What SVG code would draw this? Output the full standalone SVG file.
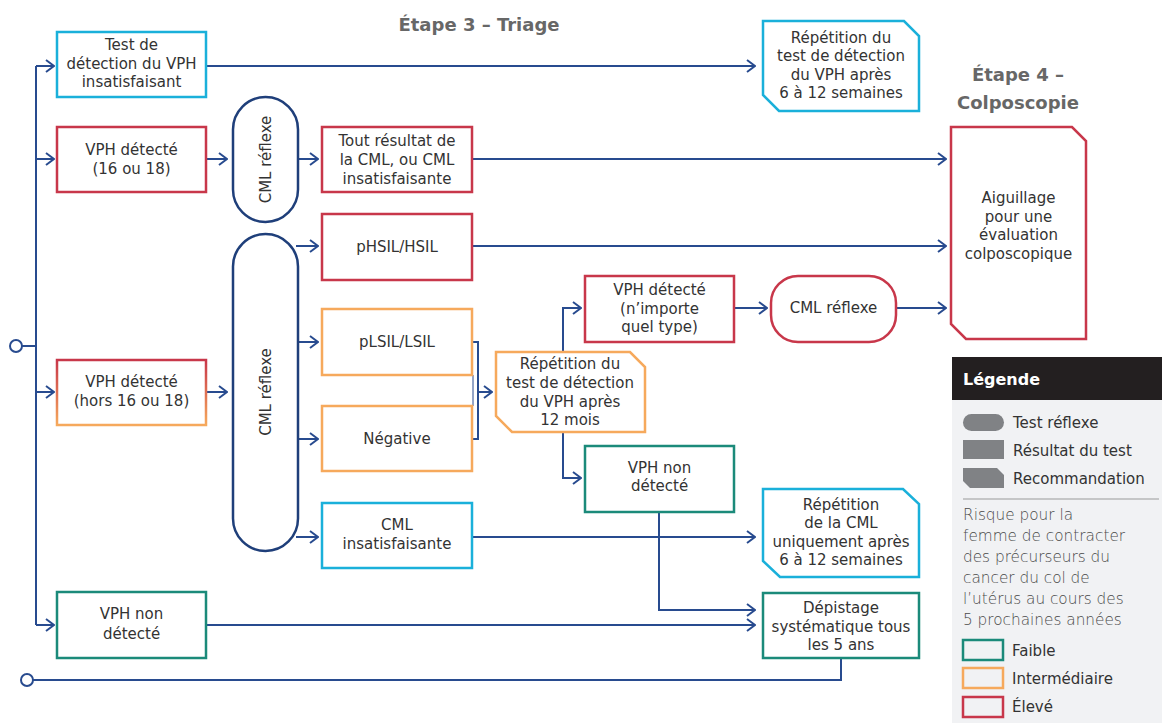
<svg xmlns="http://www.w3.org/2000/svg" width="1162" height="723" viewBox="0 0 1162 723">
  <style>
    .t { font-family: "DejaVu Sans", "Open Sans", sans-serif; font-size: 15px; fill: #333333; text-anchor: middle; }
    .h { font-family: "DejaVu Sans", "Open Sans", sans-serif; font-size: 18px; font-weight: 700; fill: #676767; text-anchor: middle; }
    .lg { font-family: "DejaVu Sans", "Open Sans", sans-serif; font-size: 15px; fill: #333333; }
    .lh { font-family: "DejaVu Sans", "Open Sans", sans-serif; font-size: 16px; font-weight: 700; fill: #ffffff; }
    .lp { font-family: "DejaVu Sans", "Open Sans", sans-serif; font-size: 15.3px; font-weight: 200; fill: #4a4a4a; }
    .box { fill: #ffffff; stroke-width: 2.5; }
    .red { stroke: #c8374a; }
    .orange { stroke: #f6a95c; }
    .teal { stroke: #1b8a7a; }
    .cyan { stroke: #1ab0da; }
    .pill { fill: #ffffff; stroke: #1f3f7a; stroke-width: 2.5; }
    .conn { fill: none; stroke: #284b8f; stroke-width: 2; }
    .arr { marker-end: url(#ah); }
    .leg-shape { fill: #808285; }
    .leg-key { fill: none; stroke-width: 2.5; }
  </style>
  <defs>
    <marker id="ah" viewBox="0 0 10 14" refX="9" refY="7" markerWidth="10" markerHeight="14" markerUnits="userSpaceOnUse" orient="auto">
      <path d="M1,1 L9,7 L1,13" fill="none" stroke="#284b8f" stroke-width="2"/>
    </marker>
    <linearGradient id="redOrange" x1="0" y1="0" x2="0" y2="1">
      <stop offset="0" stop-color="#c8374a"/>
      <stop offset="1" stop-color="#f6a95c"/>
    </linearGradient>
  </defs>

  <rect width="1162" height="723" fill="#ffffff"/>

  <!-- stage headings -->
  <text class="h" x="479" y="31">Étape 3 – Triage</text>
  <text class="h" x="1018" y="81">Étape 4 –</text>
  <text class="h" x="1018" y="109">Colposcopie</text>

  <!-- connectors -->
  <g id="connectors">
    <path class="conn" d="M36,66 V625"/>
    <circle cx="16" cy="346" r="6" fill="#ffffff" stroke="#284b8f" stroke-width="2"/>
    <path class="conn" d="M22,346 H36"/>
    <path class="conn arr" d="M36,66 H54"/>
    <path class="conn arr" d="M36,159 H54"/>
    <path class="conn arr" d="M36,392 H54"/>
    <path class="conn arr" d="M36,625 H54"/>

    <path class="conn arr" d="M207,66 H755"/>
    <path class="conn arr" d="M207,159 H227"/>
    <path class="conn arr" d="M298,159 H318"/>
    <path class="conn arr" d="M472,159 H946"/>

    <path class="conn arr" d="M207,392 H227"/>
    <path class="conn arr" d="M296,246 H318"/>
    <path class="conn arr" d="M298,342 H318"/>
    <path class="conn arr" d="M298,439 H318"/>
    <path class="conn arr" d="M296,537 H318"/>
    <path class="conn arr" d="M472,246 H946"/>

    <path class="conn" d="M472,342 H478 V439 H472"/>
    <path d="M473,375 V406" stroke="#284b8f" stroke-width="1" fill="none"/>
    <path class="conn arr" d="M478,392 H492"/>

    <path class="conn arr" d="M563,352 V308 H581"/>
    <path class="conn arr" d="M563,432 V478 H581"/>
    <path class="conn arr" d="M734,308 H767"/>
    <path class="conn arr" d="M896,308 H946"/>

    <path class="conn arr" d="M472,537 H755"/>
    <path class="conn arr" d="M659,512 V610 H755"/>
    <path class="conn arr" d="M207,625 H755"/>

    <path class="conn" d="M841,658 V680 H33"/>
    <circle cx="27" cy="680" r="6" fill="#ffffff" stroke="#284b8f" stroke-width="2"/>
  </g>

  <!-- first column: screening results -->
  <g id="n-vph-insat">
    <rect class="box cyan" x="57" y="32" width="149" height="65"/>
    <text class="t" x="131.5" y="50">Test de</text>
    <text class="t" x="131.5" y="68.5">détection du VPH</text>
    <text class="t" x="131.5" y="87">insatisfaisant</text>
  </g>
  <g id="n-vph-16-18">
    <rect class="box red" x="57" y="127" width="149" height="65"/>
    <text class="t" x="131.5" y="155">VPH détecté</text>
    <text class="t" x="131.5" y="173.5">(16 ou 18)</text>
  </g>
  <g id="n-vph-autre">
    <rect class="box" stroke="url(#redOrange)" x="57" y="360" width="149" height="65"/>
    <text class="t" x="131.5" y="387">VPH détecté</text>
    <text class="t" x="131.5" y="405.5">(hors 16 ou 18)</text>
  </g>
  <g id="n-vph-neg">
    <rect class="box teal" x="57" y="592" width="149" height="66"/>
    <text class="t" x="131.5" y="619">VPH non</text>
    <text class="t" x="131.5" y="639">détecté</text>
  </g>

  <!-- reflex cytology -->
  <g id="n-cml-reflexe-1">
    <rect class="pill" x="233" y="97" width="65" height="125" rx="32.5"/>
    <text class="t" transform="translate(270.5,159.5) rotate(-90)">CML réflexe</text>
  </g>
  <g id="n-cml-reflexe-2">
    <rect class="pill" x="233" y="234" width="65" height="317" rx="32.5"/>
    <text class="t" transform="translate(270.5,392) rotate(-90)">CML réflexe</text>
  </g>

  <!-- cytology results -->
  <g id="n-tout-resultat">
    <rect class="box red" x="322" y="127" width="150" height="65"/>
    <text class="t" x="397" y="146">Tout résultat de</text>
    <text class="t" x="397" y="165">la CML, ou CML</text>
    <text class="t" x="397" y="184">insatisfaisante</text>
  </g>
  <g id="n-hsil">
    <rect class="box red" x="322" y="214" width="150" height="66"/>
    <text class="t" x="397" y="252">pHSIL/HSIL</text>
  </g>
  <g id="n-lsil">
    <rect class="box orange" x="322" y="309" width="150" height="66"/>
    <text class="t" x="397" y="347">pLSIL/LSIL</text>
  </g>
  <g id="n-negative">
    <rect class="box orange" x="322" y="406" width="150" height="65"/>
    <text class="t" x="397" y="444">Négative</text>
  </g>
  <g id="n-cml-insat">
    <rect class="box cyan" x="322" y="503" width="150" height="65"/>
    <text class="t" x="397" y="530">CML</text>
    <text class="t" x="397" y="549">insatisfaisante</text>
  </g>

  <!-- repeat HPV test at 12 months -->
  <g id="n-rep-12mois">
    <path class="box orange" d="M496,352 H630 L645,367 V432 H512 L496,416 Z"/>
    <text class="t" x="570" y="369">Répétition du</text>
    <text class="t" x="570" y="388">test de détection</text>
    <text class="t" x="570" y="407">du VPH après</text>
    <text class="t" x="570" y="425">12 mois</text>
  </g>
  <g id="n-vph-tout-type">
    <rect class="box red" x="585" y="276" width="149" height="66"/>
    <text class="t" x="659.5" y="295">VPH détecté</text>
    <text class="t" x="659.5" y="314">(n’importe</text>
    <text class="t" x="659.5" y="332">quel type)</text>
  </g>
  <g id="n-cml-reflexe-3">
    <rect class="box red" x="771" y="276" width="125" height="66" rx="27"/>
    <text class="t" x="833.5" y="313">CML réflexe</text>
  </g>
  <g id="n-vph-non-2">
    <rect class="box teal" x="585" y="446" width="149" height="66"/>
    <text class="t" x="659.5" y="473">VPH non</text>
    <text class="t" x="659.5" y="491">détecté</text>
  </g>

  <!-- recommendations -->
  <g id="n-rep-vph">
    <path class="box cyan" d="M763,21 H904 L919,36 V111 H779 L763,95 Z"/>
    <text class="t" x="841" y="43">Répétition du</text>
    <text class="t" x="841" y="61">test de détection</text>
    <text class="t" x="841" y="80">du VPH après</text>
    <text class="t" x="841" y="98">6 à 12 semaines</text>
  </g>
  <g id="n-colposcopie">
    <path class="box red" d="M951,127 H1072 L1086,141 V339 H966 L951,324 Z"/>
    <text class="t" x="1018.5" y="203">Aiguillage</text>
    <text class="t" x="1018.5" y="222">pour une</text>
    <text class="t" x="1018.5" y="240">évaluation</text>
    <text class="t" x="1018.5" y="259">colposcopique</text>
  </g>
  <g id="n-rep-cml">
    <path class="box cyan" d="M763,489 H903 L919,504 V577 H780 L763,561 Z"/>
    <text class="t" x="841" y="510">Répétition</text>
    <text class="t" x="841" y="528">de la CML</text>
    <text class="t" x="841" y="547">uniquement après</text>
    <text class="t" x="841" y="565">6 à 12 semaines</text>
  </g>
  <g id="n-depistage">
    <rect class="box teal" x="763" y="593" width="156" height="65"/>
    <text class="t" x="841" y="613">Dépistage</text>
    <text class="t" x="841" y="632">systématique tous</text>
    <text class="t" x="841" y="650">les 5 ans</text>
  </g>

  <!-- legend -->
  <g id="legend">
    <rect x="952" y="357" width="210" height="43" fill="#231f20"/>
    <text class="lh" x="963" y="385">Légende</text>
    <rect x="952" y="400" width="210" height="323" fill="#f1f2f4"/>
    <rect class="leg-shape" x="963" y="414" width="41" height="17" rx="8.5"/>
    <text class="lg" x="1013" y="428">Test réflexe</text>
    <rect class="leg-shape" x="963" y="440" width="41" height="19"/>
    <text class="lg" x="1013" y="456">Résultat du test</text>
    <path class="leg-shape" d="M963,468 H997 L1004,475 V488 H970 L963,481 Z"/>
    <text class="lg" x="1013" y="484">Recommandation</text>
    <line x1="963" y1="499" x2="1159" y2="499" stroke="#9a9a9a" stroke-width="1.2"/>
    <text class="lp" x="963" y="520">Risque pour la</text>
    <text class="lp" x="963" y="541">femme de contracter</text>
    <text class="lp" x="963" y="562">des précurseurs du</text>
    <text class="lp" x="963" y="583">cancer du col de</text>
    <text class="lp" x="963" y="604">l’utérus au cours des</text>
    <text class="lp" x="963" y="625">5 prochaines années</text>
    <rect class="leg-key teal" x="963" y="640" width="40" height="20"/>
    <text class="lg" x="1012" y="656">Faible</text>
    <rect class="leg-key orange" x="963" y="668" width="40" height="20"/>
    <text class="lg" x="1012" y="684">Intermédiaire</text>
    <rect class="leg-key red" x="963" y="697" width="40" height="20"/>
    <text class="lg" x="1012" y="712">Élevé</text>
  </g>
</svg>
